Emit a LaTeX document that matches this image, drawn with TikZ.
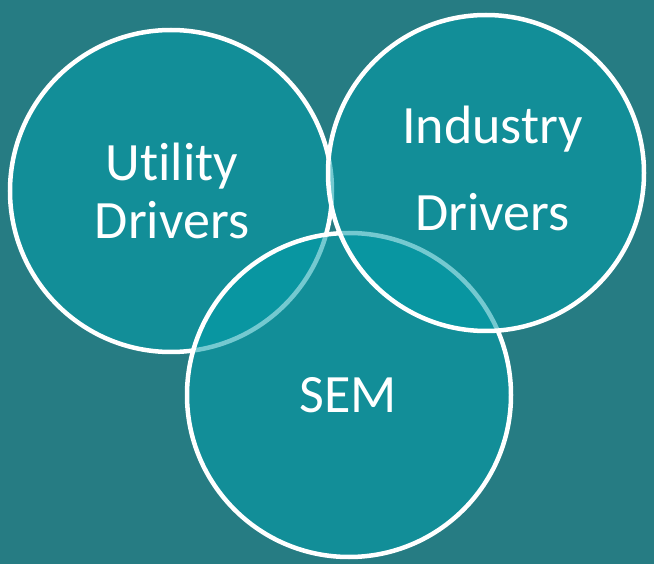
\documentclass[tikz,border=0pt]{standalone}
\usepackage{fontspec}
\setmainfont{Carlito}[Ligatures=NoCommon]
\usepackage{tikz}
\definecolor{bgteal}{RGB}{38,124,131}
\definecolor{vennteal}{RGB}{2,157,170}

\begin{document}
\begin{tikzpicture}[x=1pt,y=-1pt,
				venn/.style={circle,draw=white,line width=4.5pt,fill=vennteal,fill opacity=0.55,inner sep=0pt},
				vtext/.style={text=white,align=center,inner sep=0pt,font=\fontsize{54}{58}\selectfont}]
				\fill[bgteal] (0,0) rectangle (654,564);
				% lower circles first, so their outlines show faded through the upper ones
				\node[venn,minimum size=322pt] (util) at (171,191) {};
				\node[venn,minimum size=324pt] (sem) at (349,395) {};
				\node[venn,minimum size=316pt] (ind) at (486,173) {};
				\node[vtext] (utiltext) at (172,191) {Utility\\Drivers};
				\node[vtext] (semtext) at (348,395) {SEM};
				\node[vtext] (indtext) at (492.5,168.5) {Industry\\[29pt]Drivers};
\end{tikzpicture}
\end{document}
